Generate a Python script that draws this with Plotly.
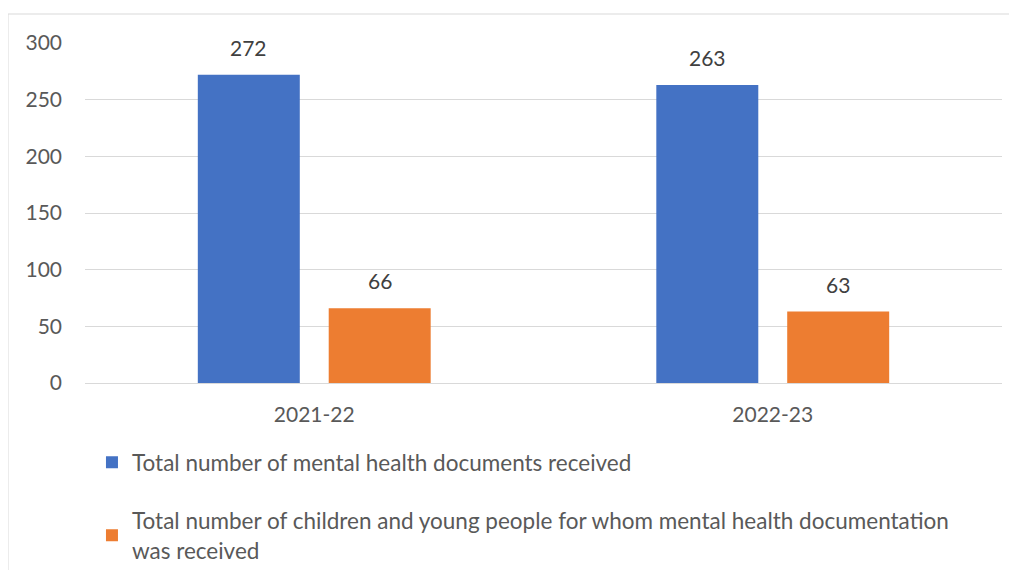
import plotly.graph_objects as go

categories = ["2021-22", "2022-23"]
series_names = [
    "Total number of mental health documents received",
    "Total number of children and young people for whom mental health documentation<br>was received",
]
documents = [272, 263]
children = [66, 63]
colors = ["#4472C4", "#ED7D31"]
y_ticks = [0, 50, 100, 150, 200, 250, 300]

FONT = "Lato"
TXT = "#595959"

# page body has an 8px margin; figure is sized to fit the 1017x570 window
W, H = 1009, 562
OFF = 8

fig = go.Figure()
series = [documents, children]
for i, (name, vals) in enumerate(zip(series_names, series)):
    fig.add_trace(go.Bar(
        x=categories, y=vals, name=name,
        marker=dict(color=colors[i], line=dict(width=0)),
        legendgroup=f"g{i}",
    ))

# data labels above each bar
slot_px = 131  # distance between bar centres within a group
annotations = []
for i, vals in enumerate(series):
    for c, v in zip(categories, vals):
        annotations.append(dict(
            x=c, y=v, xref="x", yref="y", text=str(v), showarrow=False,
            yanchor="bottom", yshift=13, xshift=(i - 0.5) * slot_px,
            font=dict(family=FONT, size=21, color="#404040"),
        ))

fig.update_layout(
    width=W, height=H,
    margin=dict(l=85 - OFF, r=W - (1002 - OFF), t=43 - OFF, b=H - (383 - OFF),
                autoexpand=False),
    paper_bgcolor="white", plot_bgcolor="white",
    barmode="group", bargap=0.429, bargroupgap=0.221,
    font=dict(family=FONT, size=20, color=TXT),
    showlegend=True,
    annotations=annotations,
    legend=dict(
        orientation="v", x=0.0076, xanchor="left", y=-0.171, yanchor="top",
        font=dict(family=FONT, size=22.5, color=TXT),
        tracegroupgap=26, itemclick=False,
    ),
    xaxis=dict(showgrid=False, showline=False, ticks="", ticklabelstandoff=17,
               tickfont=dict(family=FONT, size=21, color=TXT)),
    yaxis=dict(range=[0, 300], tickvals=y_ticks, showgrid=True,
               gridcolor="#D9D9D9", gridwidth=1, zeroline=True,
               zerolinecolor="#D9D9D9", zerolinewidth=1, showline=False,
               ticks="", ticklabelstandoff=22,
               tickfont=dict(family=FONT, size=21, color=TXT)),
    shapes=[dict(type="rect", xref="paper", yref="paper",
                 x0=(8 - 85) / 917, x1=(1016 - 85) / 917,
                 y0=-0.7, y1=1 + (43 - 14) / 340,
                 line=dict(color="#D9D9D9", width=1), fillcolor="rgba(0,0,0,0)",
                 layer="below")],
)

fig.write_html("out.html")
